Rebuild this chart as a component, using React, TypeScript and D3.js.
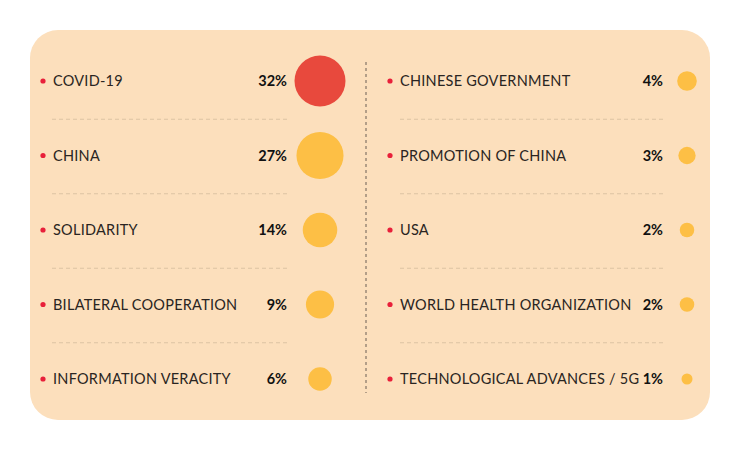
import React, { useEffect, useRef } from "react";
import * as d3 from "d3";

const leftLabels = ["COVID-19", "CHINA", "SOLIDARITY", "BILATERAL COOPERATION", "INFORMATION VERACITY"];
const leftValues = [32, 27, 14, 9, 6];
const rightLabels = ["CHINESE GOVERNMENT", "PROMOTION OF CHINA", "USA", "WORLD HEALTH ORGANIZATION", "TECHNOLOGICAL ADVANCES / 5G"];
const rightValues = [4, 3, 2, 2, 1];

const W = 740;
const H = 450;

export default function App() {
  const ref = useRef<SVGSVGElement>(null);
  useEffect(() => {
    const svg = d3.select(ref.current);
    svg.selectAll("*").remove();
    svg.append("rect").attr("x", 30).attr("y", 30).attr("width", 680).attr("height", 390)
      .attr("rx", 28).attr("ry", 28).attr("fill", "#FCDFBC");

    const y = d3.scalePoint<number>().domain([0, 1, 2, 3, 4]).range([81, 379]);
    const r = d3.scalePow().exponent(0.5).domain([1, 32]).range([5.5, 25.5]);
    const maxVal = d3.max(leftValues) as number;

    svg.append("line").attr("x1", 366).attr("x2", 366).attr("y1", 62).attr("y2", 393)
      .attr("stroke", "#6b5f55").attr("stroke-width", 1).attr("stroke-dasharray", "3,3");

    const cols = [
      { labels: leftLabels, values: leftValues, dotX: 43, labelX: 53, valX: 287, cx: 320, sepX1: 52, sepX2: 288 },
      { labels: rightLabels, values: rightValues, dotX: 390, labelX: 400, valX: 663, cx: 687, sepX1: 400, sepX2: 663 },
    ];
    cols.forEach((c) => {
      const g = svg.append("g");
      c.labels.forEach((lab, i) => {
        const cy = y(i) as number;
        g.append("circle").attr("cx", c.dotX).attr("cy", cy).attr("r", 2.6).attr("fill", "#E8203A");
        g.append("text").attr("x", c.labelX).attr("y", cy).attr("dy", "0.36em")
          .attr("font-family", "Lato, 'Open Sans', sans-serif").attr("font-size", 14.5)
          .attr("letter-spacing", 0.25).attr("fill", "#2a2522").text(lab);
        g.append("text").attr("x", c.valX).attr("y", cy).attr("dy", "0.36em").attr("text-anchor", "end")
          .attr("font-family", "Lato, 'Open Sans', sans-serif").attr("font-size", 14.5).attr("font-weight", 700)
          .attr("fill", "#111").text(c.values[i] + "%");
        g.append("circle").attr("cx", c.cx).attr("cy", cy).attr("r", r(c.values[i]))
          .attr("fill", c.values[i] === maxVal ? "#E8493D" : "#FDBF45");
        if (i < c.labels.length - 1) {
          const sy = ((y(i) as number) + (y(i + 1) as number)) / 2 + 1;
          g.append("line").attr("x1", c.sepX1).attr("x2", c.sepX2).attr("y1", sy).attr("y2", sy)
            .attr("stroke", "#dcc3a3").attr("stroke-width", 1).attr("stroke-dasharray", "4,3");
        }
      });
    });
  }, []);
  return (
    <svg ref={ref} width={W} height={H} style={{ position: "absolute", left: 0, top: 0, background: "#fff" }} />
  );
}
